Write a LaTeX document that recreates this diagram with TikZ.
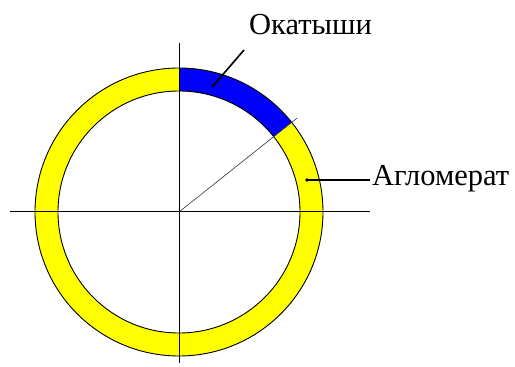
\documentclass[tikz,border=0pt]{standalone}
\usepackage{fontspec}
\setmainfont{Liberation Serif}
\usetikzlibrary{calc}
\definecolor{ringyellow}{RGB}{255,255,0}
\definecolor{segblue}{RGB}{0,0,255}
\tikzset{
  axis/.style={line width=1pt, draw=black},
  ringedge/.style={line width=0.9pt, draw=black},
  radial/.style={line width=0.6pt, draw=black!80},
  lead/.style={line width=1.6pt, draw=black},
  leadthick/.style={line width=2.2pt, draw=black},
  lbl/.style={font=\fontsize{30.5}{32}\selectfont, inner sep=0pt, anchor=base west},
}
\begin{document}
\begin{tikzpicture}[x=1pt,y=1pt]
  \useasboundingbox (0,0) rectangle (515,367);
  \coordinate (c) at (179,155);
  % ring and pellet segment
  \fill[ringyellow,even odd rule] (c) circle (144) (c) circle (121);
  \fill[segblue] ($(c)+(38.5:144)$) arc (38.5:90:144) -- ($(c)+(90:121)$) arc (90:38.5:121) -- cycle;
  \draw[ringedge] (c) circle (144) (c) circle (121);
  % axes
  \coordinate (xl) at (10,155);
  \coordinate (xr) at (370,155);
  \coordinate (yt) at (179,324);
  \coordinate (yb) at (179,4);
  \draw[axis] (xl) -- (xr);
  \draw[axis] (yt) -- (yb);
  \draw[radial] (c) -- ($(c)+(38.5:151)$);
  % labels
  \node[lbl] (okat) at (249,332) {Окатыши};
  \node[lbl] (aglo) at (372,181) {Агломерат};
  \coordinate (okdot) at (213,281);
  \coordinate (agdot) at (307,187);
  \draw[lead] (okdot) -- ($(okat.base west)+(-5,-15)$);
  \draw[leadthick] (agdot) -- ($(aglo.base west)+(-2,6)$);
  \fill (okdot) circle (1.6) (agdot) circle (1.8);
\end{tikzpicture}
\end{document}
